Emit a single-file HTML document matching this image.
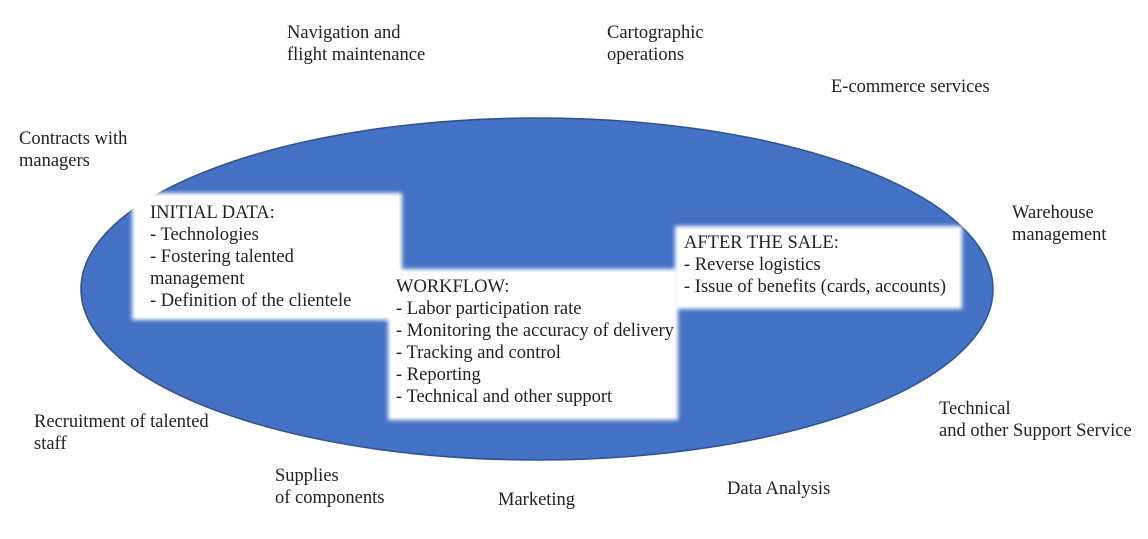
<!DOCTYPE html>
<html><head><style>
body{margin:0;width:1148px;height:539px;background:#fff;position:relative;overflow:hidden;font-family:"Liberation Serif",serif;font-size:18.5px;color:#222;}
.t{position:absolute;line-height:22px;white-space:nowrap;}
.box{position:absolute;background:#fff;box-shadow:0 0 4px 3px #fff;}
</style></head><body>
<svg width="1148" height="539" style="position:absolute;left:0;top:0">
<ellipse cx="537" cy="289" rx="456" ry="171" fill="#4472C4" stroke="#2F528F" stroke-width="1.5"/>
</svg>
<div class="box" style="left:135px;top:196px;width:264px;height:121px"></div>
<div class="box" style="left:391px;top:272px;width:284px;height:145px"></div>
<div class="box" style="left:678px;top:229px;width:281px;height:77px"></div>
<div class="t" style="left:150px;top:202px">INITIAL DATA:<br>- Technologies<br>- Fostering talented<br>management<br>- Definition of the clientele</div>
<div class="t" style="left:396px;top:276px">WORKFLOW:<br>- Labor participation rate<br>- Monitoring the accuracy of delivery<br>- Tracking and control<br>- Reporting<br>- Technical and other support</div>
<div class="t" style="left:684px;top:232px">AFTER THE SALE:<br>- Reverse logistics<br>- Issue of benefits (cards, accounts)</div>
<div class="t" style="left:287px;top:22px">Navigation and<br>flight maintenance</div>
<div class="t" style="left:607px;top:22px">Cartographic<br>operations</div>
<div class="t" style="left:831px;top:76px">E-commerce services</div>
<div class="t" style="left:19px;top:128px">Contracts with<br>managers</div>
<div class="t" style="left:1012px;top:202px">Warehouse<br>management</div>
<div class="t" style="left:34px;top:411px">Recruitment of talented<br>staff</div>
<div class="t" style="left:939px;top:398px">Technical<br>and other Support Service</div>
<div class="t" style="left:275px;top:465px">Supplies<br>of components</div>
<div class="t" style="left:498px;top:489px">Marketing</div>
<div class="t" style="left:727px;top:478px">Data Analysis</div>
</body></html>
